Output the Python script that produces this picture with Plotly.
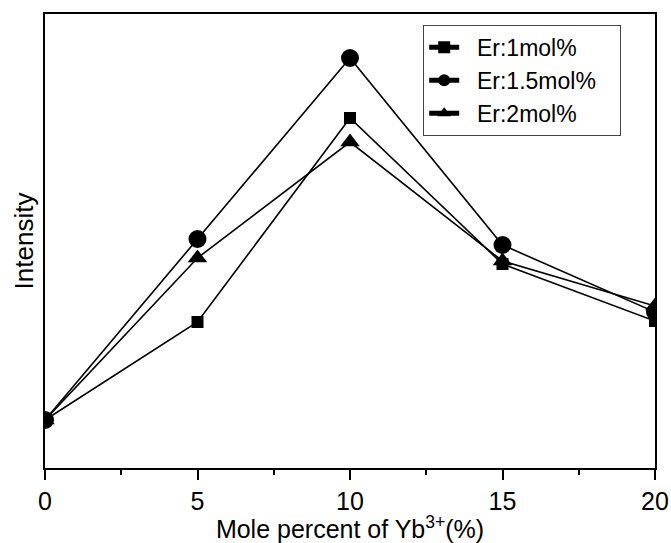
import plotly.graph_objects as go

x_vals = [0, 5, 10, 15, 20]
er1 = [48, 146, 350, 204, 147]
er15 = [48, 229, 410, 223, 156]
er2 = [48, 210, 326, 207, 162]
names = ["Er:1mol%", "Er:1.5mol%", "Er:2mol%"]
series = [er1, er15, er2]
symbols = ["square", "circle", "triangle-up"]
sizes = [12, 18, 17]

fig = go.Figure()
for name, ys, sym, sz in zip(names, series, symbols, sizes):
    fig.add_trace(go.Scatter(
        x=x_vals, y=ys, name="\u00a0\u00a0" + name + "\u00a0\u00a0\u00a0", mode="lines+markers",
        line=dict(color="black", width=1.6),
        marker=dict(symbol=sym, size=sz, color="black"),
        cliponaxis=True,
    ))

font_family = "Liberation Sans, Arial, sans-serif"
fig.update_layout(
    template="none",
    width=671, height=543,
    margin=dict(l=45, r=16, t=14, b=75),
    paper_bgcolor="white", plot_bgcolor="white",
    font=dict(family=font_family, color="black"),
    showlegend=True,
    legend=dict(
        x=0.62, y=0.976, xanchor="left", yanchor="top",
        bordercolor="#444", borderwidth=1, bgcolor="white",
        font=dict(size=23, family=font_family),
        tracegroupgap=0, itemsizing="constant",
    ),
    xaxis=dict(
        range=[0, 20], tickvals=[0, 5, 10, 15, 20],
        ticks="outside", ticklen=10, tickwidth=1.5, tickcolor="black",
        minor=dict(ticks="outside", dtick=2.5, ticklen=5, tickwidth=1.5, tickcolor="black"),
        showline=True, linecolor="black", linewidth=1.5, mirror=True,
        showgrid=False, zeroline=False, automargin=False,
        tickfont=dict(size=25),
        title=dict(text="Mole percent of Yb<sup>3+</sup>(%)", font=dict(size=25)),
    ),
    yaxis=dict(
        range=[0, 454], showticklabels=False, ticks="",
        showline=True, linecolor="black", linewidth=1.5, mirror=True,
        showgrid=False, zeroline=False, automargin=False,
        title=dict(text="Intensity", font=dict(size=26), standoff=2),
    ),
)

fig.write_html("out.html")
